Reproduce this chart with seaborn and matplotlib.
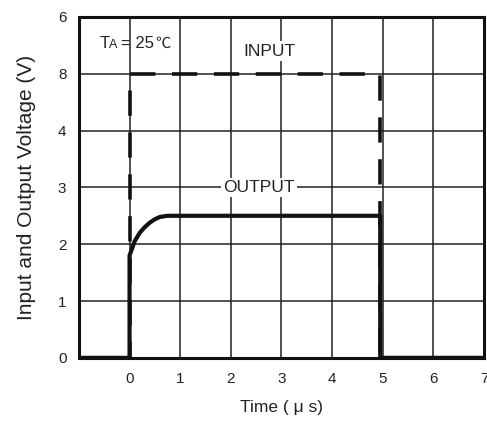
import numpy as np
import pandas as pd
import seaborn as sns
import matplotlib.pyplot as plt
from matplotlib.transforms import offset_copy

# input pulse (dashed) and output response (solid)
input_time = [-1, 0, 0, 4.95, 4.95, 7]
input_volt = [0, 0, 5, 5, 0, 0]

output_time = [-1, 0, 0, 0.1, 0.2, 0.3, 0.4, 0.5, 0.6, 0.75, 4.95, 4.95, 7]
output_volt = [0, 0, 1.8, 2.05, 2.2, 2.3, 2.38, 2.44, 2.48, 2.5, 2.5, 0, 0]

x_ticks = [0, 1, 2, 3, 4, 5, 6, 7]
y_ticks = [0, 1, 2, 3, 4, 5, 6]
y_labels = ["0", "1", "2", "3", "4", "8", "6"]


def make_plot():
    sns.set_style("white")
    plt.rcParams["font.family"] = ["Liberation Sans", "DejaVu Sans"]

    fig = plt.figure(figsize=(4.87, 4.23), dpi=100)
    ax = fig.add_axes([0.162, 0.154, 0.832, 0.806])

    df_in = pd.DataFrame({"t": input_time, "v": input_volt})
    df_out = pd.DataFrame({"t": output_time, "v": output_volt})

    sns.lineplot(data=df_in, x="t", y="v", estimator=None, sort=False,
                 color="#111111", lw=2.6, ax=ax, zorder=3)
    ax.lines[-1].set_dashes([7.0, 4.6])
    sns.lineplot(data=df_out, x="t", y="v", estimator=None, sort=False,
                 color="#111111", lw=3.0, ax=ax, zorder=4)

    ax.set_xlim(-1, 7)
    ax.set_ylim(0, 6)
    ax.set_xticks(x_ticks)
    ax.set_yticks(y_ticks)
    ax.set_yticklabels(y_labels)
    ax.tick_params(axis="both", length=0, labelsize=11, colors="#222222")
    ax.tick_params(axis="x", pad=10)
    ax.tick_params(axis="y", pad=9)

    ax.grid(True, color="#222222", lw=1.1)
    ax.set_axisbelow(True)
    for s in ax.spines.values():
        s.set_linewidth(2.2)
        s.set_color("#111111")

    ax.set_xlabel("Time ( \u03bc s)", fontsize=12.5, labelpad=10, color="#222222")
    ax.set_ylabel("Input and Output Voltage (V)", fontsize=15, labelpad=16, color="#222222")

    box = dict(facecolor="white", edgecolor="none", pad=1.5)
    ax.text(2.76, 5.4, "INPUT", ha="center", va="center", fontsize=12.5,
            color="#222222", bbox=box, zorder=5)
    ax.text(2.56, 3.0, "OUTPUT", ha="center", va="center", fontsize=12.5,
            color="#222222", bbox=box, zorder=5)

    # T_A = 25 deg C label, built from pieces
    tx, ty = -0.59, 5.45
    ax.text(tx, ty, "T", ha="left", va="baseline", fontsize=12, color="#222222", zorder=5)
    ax.text(tx, ty, "A", ha="left", va="baseline", fontsize=9, color="#222222", zorder=5,
            transform=offset_copy(ax.transData, fig=fig, x=6.6, y=0, units="points"))
    ax.text(tx, ty, "= 25", ha="left", va="baseline", fontsize=12, color="#222222", zorder=5,
            transform=offset_copy(ax.transData, fig=fig, x=15.5, y=0, units="points"))
    ax.text(tx, ty, "\u2103", ha="left", va="baseline", fontsize=11, color="#222222", zorder=5,
            family=["Noto Sans CJK SC", "DejaVu Sans"],
            transform=offset_copy(ax.transData, fig=fig, x=40, y=0, units="points"))

    plt.savefig("out.png", dpi=100)


if __name__ == "__main__":
    make_plot()
